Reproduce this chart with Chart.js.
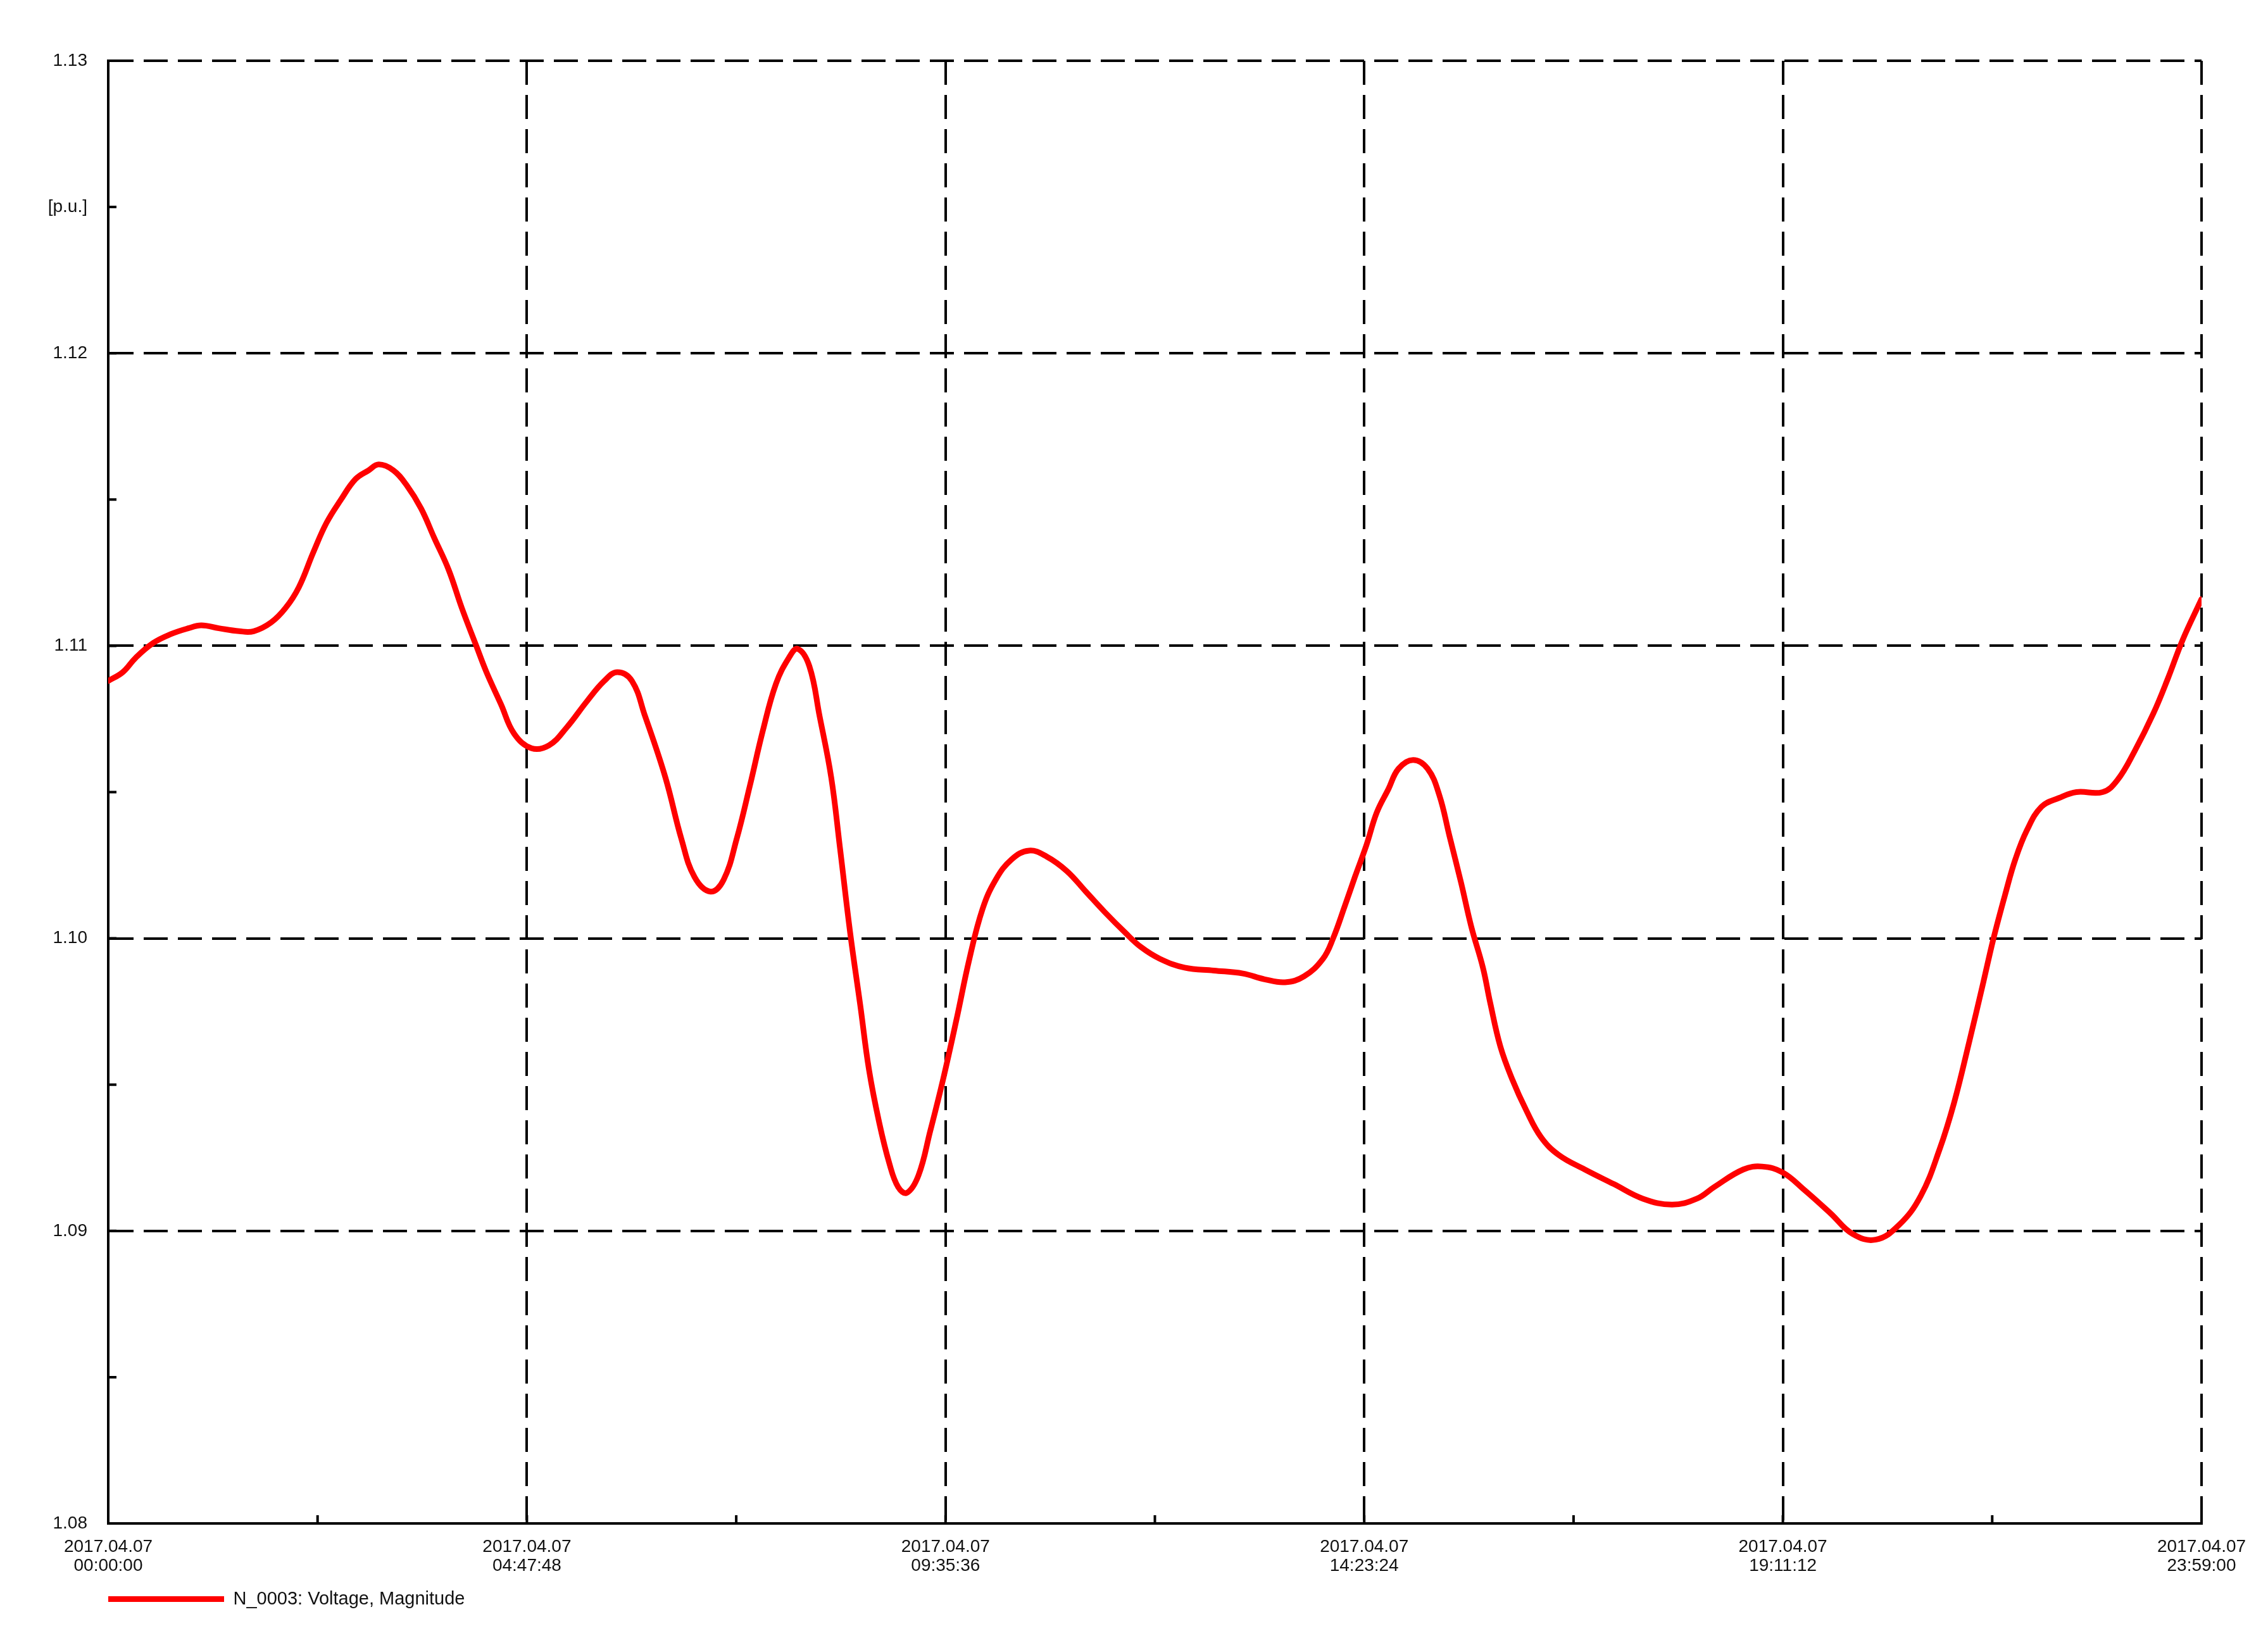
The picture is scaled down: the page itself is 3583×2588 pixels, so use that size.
<!DOCTYPE html>
<html>
<head>
<meta charset="utf-8">
<title>N_0003 Voltage</title>
<script src="https://cdn.jsdelivr.net/npm/chart.js@4.4.1/dist/chart.umd.min.js"></script>
<style>
  html, body { margin: 0; padding: 0; background: #fff; }
  canvas { display: block; }
</style>
</head>
<body>
<canvas id="voltChart" width="3583" height="2588"></canvas>
<script>
// ---- data (time in minutes since 2017.04.07 00:00:00) ----
const minutes = [
  0, 10, 19, 31, 43, 55, 64, 76, 90, 100, 112, 122, 131, 141, 150, 160, 170, 179, 186, 196,
  205, 215, 224, 234, 243, 253, 260, 270, 279, 291, 303, 315, 329, 341, 350, 360, 369, 383, 394, 403,
  414, 423, 432, 441, 450, 459, 468, 474, 482, 489, 497, 503, 510, 517, 523, 530, 537, 543, 549, 557,
  565, 574, 583, 592, 601, 610, 621, 633, 645, 659, 672, 685, 699, 710, 723, 740, 760, 780, 795, 809,
  822, 835, 842, 850, 857, 865, 872, 880, 887, 897, 907, 915, 922, 930, 937, 945, 950, 957, 965, 975,
  985, 997, 1015, 1035, 1055, 1075, 1092, 1104, 1124, 1137, 1151, 1166, 1184, 1199, 1215, 1231, 1246, 1259, 1269, 1279,
  1289, 1296, 1304, 1311, 1319, 1329, 1341, 1353, 1371, 1381, 1393, 1406, 1416, 1426, 1439
];
const voltage = [
  1.1088, 1.1091, 1.1096, 1.1101, 1.1104, 1.1106, 1.1107, 1.1106, 1.1105, 1.1105, 1.1108, 1.1113, 1.1120, 1.1132, 1.1142, 1.1150, 1.1157, 1.1160, 1.1162, 1.1160,
  1.1155, 1.1147, 1.1137, 1.1126, 1.1113, 1.1100, 1.1091, 1.1080, 1.1070, 1.1065, 1.1066, 1.1072, 1.1081, 1.1088, 1.1091, 1.1088, 1.1076, 1.1055, 1.1034, 1.1021,
  1.1016, 1.1020, 1.1034, 1.1052, 1.1071, 1.1087, 1.1096, 1.1099, 1.1093, 1.1076, 1.1055, 1.1031, 1.1002, 1.0977, 1.0955, 1.0937, 1.0923, 1.0915, 1.0913, 1.0919,
  1.0934, 1.0952, 1.0972, 1.0993, 1.1010, 1.1020, 1.1027, 1.1030, 1.1028, 1.1023, 1.1016, 1.1009, 1.1002, 1.0997, 1.0993, 1.0990, 1.0989, 1.0988, 1.0986, 1.0985,
  1.0987, 1.0993, 1.1000, 1.1011, 1.1021, 1.1032, 1.1043, 1.1051, 1.1058, 1.1061, 1.1058, 1.1049, 1.1035, 1.1019, 1.1004, 1.0990, 1.0978, 1.0963, 1.0952, 1.0941,
  1.0932, 1.0926, 1.0921, 1.0916, 1.0911, 1.0909, 1.0911, 1.0915, 1.0921, 1.0922, 1.0920, 1.0914, 1.0906, 1.0899, 1.0897, 1.0902, 1.0912, 1.0928, 1.0944, 1.0964,
  1.0985, 1.1000, 1.1015, 1.1027, 1.1037, 1.1045, 1.1048, 1.1050, 1.1050, 1.1054, 1.1064, 1.1077, 1.1089, 1.1102, 1.1116
];

// x axis ticks (minutes) and their two-line labels
const xTickMinutes = [0, 287.8, 575.6, 863.4, 1151.2, 1439];
const xTickLabels = [
  ['2017.04.07', '00:00:00'],
  ['2017.04.07', '04:47:48'],
  ['2017.04.07', '09:35:36'],
  ['2017.04.07', '14:23:24'],
  ['2017.04.07', '19:11:12'],
  ['2017.04.07', '23:59:00']
];
const yMin = 1.08, yMax = 1.13, yStep = 0.005;
const yUnitValue = 1.125;
const yUnitLabel = '[p.u.]';
const seriesName = 'N_0003: Voltage, Magnitude';

const FONT = { family: '"Liberation Sans", Arial, sans-serif', size: 28, lineHeight: 30 / 28 };
const TEXT = '#111';

function isMajorY(v) {
  return Math.abs(v * 100 - Math.round(v * 100)) < 1e-6;
}

// short inward ticks on the left and bottom axes (like the original plot)
const axisTicks = {
  id: 'axisTicks',
  beforeDatasetsDraw(chart) {
    const { ctx, chartArea, scales } = chart;
    const len = 13;
    ctx.save();
    ctx.strokeStyle = '#000';
    ctx.lineWidth = 4;
    ctx.beginPath();
    for (let v = yMin; v <= yMax + 1e-9; v += yStep) {
      const y = scales.y.getPixelForValue(v);
      ctx.moveTo(chartArea.left, y);
      ctx.lineTo(chartArea.left + len, y);
    }
    for (let i = 0; i < xTickMinutes.length; i++) {
      const x = scales.x.getPixelForValue(xTickMinutes[i]);
      ctx.moveTo(x, chartArea.bottom);
      ctx.lineTo(x, chartArea.bottom - len);
      if (i < xTickMinutes.length - 1) {
        const xm = scales.x.getPixelForValue((xTickMinutes[i] + xTickMinutes[i + 1]) / 2);
        ctx.moveTo(xm, chartArea.bottom);
        ctx.lineTo(xm, chartArea.bottom - len);
      }
    }
    ctx.stroke();
    ctx.restore();
  }
};

const ctx = document.getElementById('voltChart').getContext('2d');
new Chart(ctx, {
  type: 'line',
  data: {
    datasets: [{
      label: seriesName,
      data: minutes.map((t, i) => ({ x: t, y: voltage[i] })),
      borderColor: '#ff0000',
      backgroundColor: '#ff0000',
      borderWidth: 9,
      borderCapStyle: 'round',
      borderJoinStyle: 'round',
      pointRadius: 0,
      tension: 0.4,
      fill: false
    }]
  },
  options: {
    responsive: false,
    animation: false,
    devicePixelRatio: 1,
    layout: { padding: { left: 0, right: 105, top: 96, bottom: 37 } },
    plugins: {
      tooltip: { enabled: false },
      legend: {
        position: 'bottom',
        align: 'start',
        fullSize: false,
        labels: {
          usePointStyle: true,
          pointStyle: 'line',
          pointStyleWidth: 183,
          padding: 0,
          color: TEXT,
          font: { family: FONT.family, size: 29 }
        }
      }
    },
    scales: {
      x: {
        type: 'linear',
        min: 0,
        max: 1439,
        afterBuildTicks: axis => { axis.ticks = xTickMinutes.map(v => ({ value: v })); },
        afterFit: axis => { axis.height = 105; },
        ticks: {
          autoSkip: false,
          maxRotation: 0,
          padding: 22,
          color: TEXT,
          font: FONT,
          callback: (value, index) => xTickLabels[index]
        },
        grid: { drawTicks: false, color: '#000', lineWidth: 4 },
        border: { display: true, color: '#000', width: 4, dash: [38, 16] }
      },
      y: {
        min: yMin,
        max: yMax,
        afterBuildTicks: axis => {
          const t = [];
          for (let v = yMin; v <= yMax + 1e-9; v += yStep) t.push({ value: Math.round(v * 1000) / 1000 });
          axis.ticks = t;
        },
        afterFit: axis => { axis.width = 171; },
        ticks: {
          padding: 33,
          color: TEXT,
          font: FONT,
          callback: value => {
            if (isMajorY(value)) return value.toFixed(2);
            if (Math.abs(value - yUnitValue) < 1e-6) return yUnitLabel;
            return '';
          }
        },
        grid: {
          drawTicks: false,
          lineWidth: 4,
          color: c => (c.tick && isMajorY(c.tick.value)) ? '#000' : 'rgba(0,0,0,0)'
        },
        border: { display: true, color: '#000', width: 4, dash: [38, 16] }
      }
    }
  },
  plugins: [axisTicks]
});
</script>
</body>
</html>
